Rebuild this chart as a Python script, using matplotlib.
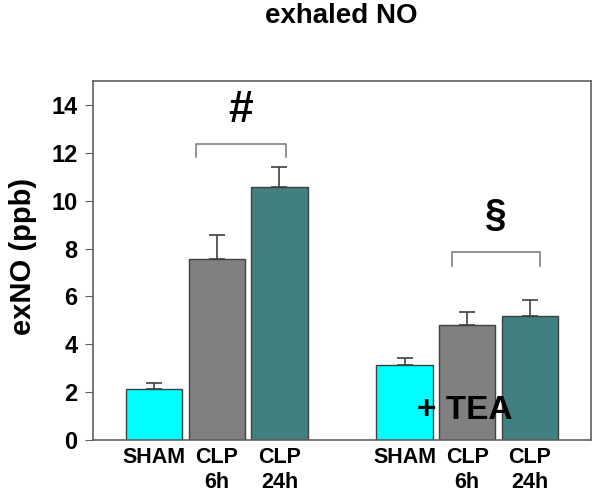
import numpy as np
import matplotlib
matplotlib.use("Agg")
import matplotlib.pyplot as plt

plt.rcParams['font.family'] = ['Liberation Sans', 'DejaVu Sans']
plt.rcParams['font.weight'] = 'bold'

# data
labels = ["SHAM", "CLP\n6h", "CLP\n24h", "SHAM", "CLP\n6h", "CLP\n24h"]
means = [2.15, 7.57, 10.58, 3.14, 4.81, 5.19]
errs = [0.22, 0.98, 0.83, 0.30, 0.52, 0.65]
positions = [0, 1, 2, 4, 5, 6]
colors = ["#00FFFF", "#808080", "#408080", "#00FFFF", "#808080", "#408080"]

fig = plt.figure(figsize=(6, 5), dpi=100)
ax = fig.add_axes([0.155, 0.12, 0.83, 0.718])

ax.bar(positions, means, width=0.9, color=colors, edgecolor="#404040", linewidth=1.0, zorder=2)
ax.errorbar(positions, means, yerr=[np.zeros(len(errs)), errs], fmt="none",
            ecolor="#404040", elinewidth=1.2, capsize=6, capthick=1.2, zorder=1)

# significance brackets
def bracket(x0, x1, y, drop, sym, ty, fs):
    ax.plot([x0, x0, x1, x1], [y - drop, y, y, y - drop], color="#808080", lw=1.2)
    ax.text((x0 + x1) / 2, ty, sym, ha="center", va="center", fontsize=fs, fontweight="bold")

bracket(0.66, 2.10, 12.37, 0.53, "#", 13.75, 32)
bracket(4.76, 6.17, 7.87, 0.59, "§", 9.34, 28)

ax.text(4.97, 1.25, "+ TEA", ha="center", va="center", fontsize=24, fontweight="bold", zorder=3)

ax.set_xlim(-0.98, 6.98)
ax.set_ylim(0, 15)
ax.set_yticks(range(0, 15, 2))
ax.set_xticks(positions)
ax.set_xticklabels(labels, fontsize=15.5, fontweight="bold", linespacing=1.25)
ax.tick_params(axis="x", length=0, pad=5)
ax.tick_params(axis="y", labelsize=17, direction="out", length=6, color="#606060", pad=5)
for s in ax.spines.values():
    s.set_color("#606060")
    s.set_linewidth(1.2)

ax.set_ylabel("exNO (ppb)", fontsize=21, fontweight="bold")
ax.yaxis.set_label_coords(-0.112, 0.51)
fig.text(341 / 600, 1 - 16 / 500, "exhaled NO", ha="center", va="center", fontsize=20, fontweight="bold")

fig.savefig("out.png", dpi=100)
